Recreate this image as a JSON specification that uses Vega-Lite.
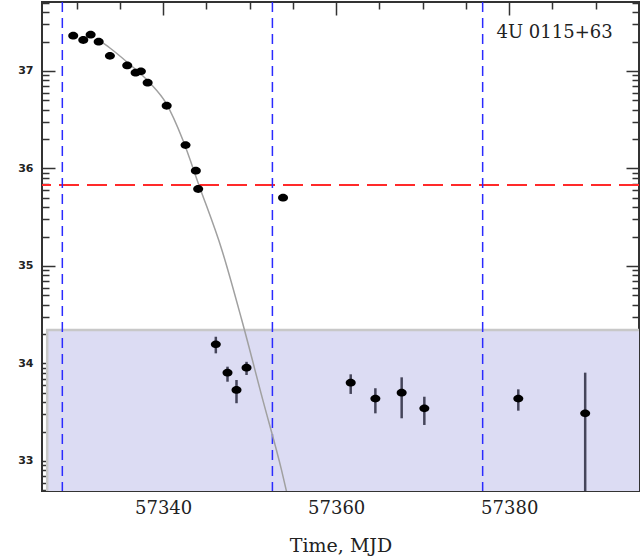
{
  "$schema": "https://vega.github.io/schema/vega-lite/v6.json",
  "width": 597,
  "height": 489,
  "autosize": {"type": "none"},
  "padding": {"left": 42, "top": 2, "right": 5, "bottom": 67},
  "background": "white",
  "config": {
    "view": {"stroke": "#333333", "strokeWidth": 2},
    "axis": {"domain": false, "grid": false, "tickColor": "#333333", "tickWidth": 1.5, "labelFont": "DejaVu Serif", "labelColor": "#222222", "titleFont": "DejaVu Serif", "titleFontWeight": "normal", "titleColor": "#222222", "labelOverlap": false, "labelFlush": false}
  },
  "layer": [
    {
      "data": {"values": [{"x0": 57326.6, "x1": 57400, "y0": 1e32, "y1": 2.21e34}]},
      "mark": {"type": "rect", "fill": "#dcdcf3", "stroke": "#c8c8c8", "strokeWidth": 2.5, "clip": true},
      "encoding": {
        "x": {"field": "x0", "type": "quantitative", "scale": {"domain": [57326, 57395], "nice": false, "zero": false},
          "axis": {"orient": "bottom", "values": [57330, 57335, 57340, 57345, 57350, 57355, 57360, 57365, 57370, 57375, 57380, 57385, 57390],
            "labelExpr": "datum.value % 20 == 0 ? '' + datum.value : ''",
            "tickSize": {"condition": {"test": "datum.value % 20 == 0", "value": -13}, "value": -6},
            "labelPadding": 21, "labelFontSize": 18, "title": "Time, MJD", "titleFontSize": 19, "titlePadding": 12}},
        "x2": {"field": "x1"},
        "y": {"field": "y0", "type": "quantitative", "scale": {"type": "log", "domain": [4.92e32, 5.1e37], "nice": false},
          "axis": {"orient": "left", "values": [5e32, 6e32, 7e32, 8e32, 9e32, 1e33, 2e33, 3e33, 4e33, 5e33, 6e33, 7e33, 8e33, 9e33, 1e34, 2e34, 3e34, 4e34, 5e34, 6e34, 7e34, 8e34, 9e34, 1e35, 2e35, 3e35, 4e35, 5e35, 6e35, 7e35, 8e35, 9e35, 1e36, 2e36, 3e36, 4e36, 5e36, 6e36, 7e36, 8e36, 9e36, 1e37, 2e37, 3e37, 4e37, 5e37],
            "labelExpr": "abs(log(datum.value)/LN10 - round(log(datum.value)/LN10)) < 0.001 ? '' + round(log(datum.value)/LN10) : ''",
            "tickSize": {"condition": {"test": "abs(log(datum.value)/LN10 - round(log(datum.value)/LN10)) < 0.001", "value": -13}, "value": -7},
            "labelPadding": 22, "labelFontSize": 11, "labelFont": "DejaVu Sans", "labelFontWeight": "bold", "title": null}},
        "y2": {"field": "y1"}
      }
    },
    {
      "data": {"values": [{"level": 6.78e35}]},
      "mark": {"type": "rule", "color": "#ff2a2a", "strokeWidth": 2, "strokeDash": [20, 8]},
      "encoding": {"y": {"field": "level", "type": "quantitative", "axis": null}}
    },
    {
      "data": {"values": [{"t": 57328.35}, {"t": 57352.63}, {"t": 57376.93}]},
      "mark": {"type": "rule", "color": "#2a2aff", "strokeWidth": 1.5, "strokeDash": [10, 6]},
      "encoding": {"x": {"field": "t", "type": "quantitative", "axis": null}}
    },
    {
      "data": {"values": [
        {"mjd": 57332.35, "L": 2.13e37},
        {"mjd": 57333.85, "L": 1.72e37},
        {"mjd": 57335.82, "L": 1.236e37},
        {"mjd": 57338.47, "L": 7.53e36},
        {"mjd": 57340.32, "L": 4.70e36},
        {"mjd": 57342.28, "L": 1.96e36},
        {"mjd": 57344.13, "L": 6.78e35},
        {"mjd": 57346.79, "L": 1.46e35},
        {"mjd": 57349.09, "L": 2.79e34},
        {"mjd": 57351.52, "L": 4.23e33},
        {"mjd": 57353.68, "L": 8.09e32},
        {"mjd": 57354.35, "L": 4.5e32}
      ]},
      "mark": {"type": "line", "color": "#a0a0a0", "strokeWidth": 1.5, "interpolate": "monotone", "clip": true},
      "encoding": {
        "x": {"field": "mjd", "type": "quantitative", "axis": null},
        "y": {"field": "L", "type": "quantitative", "axis": null}
      }
    },
    {
      "data": {"name": "pts"},
      "transform": [{"filter": "isValid(datum.lo)"}],
      "mark": {"type": "rule", "color": "#45455a", "strokeWidth": 2.5, "clip": true},
      "encoding": {
        "x": {"field": "mjd", "type": "quantitative", "axis": null},
        "y": {"field": "lo", "type": "quantitative", "axis": null},
        "y2": {"field": "hi"}
      }
    },
    {
      "data": {"name": "pts"},
      "mark": {"type": "point", "filled": true, "color": "#000000", "opacity": 1, "size": 100, "shape": "M -1 0 A 1 0.78 0 1 0 1 0 A 1 0.78 0 1 0 -1 0 Z"},
      "encoding": {
        "x": {"field": "mjd", "type": "quantitative",
          "axis": {"orient": "top", "labels": false, "title": null, "values": [57330, 57335, 57340, 57345, 57350, 57355, 57360, 57365, 57370, 57375, 57380, 57385, 57390],
            "tickSize": {"condition": {"test": "datum.value % 20 == 0", "value": -13}, "value": -7}}},
        "y": {"field": "L", "type": "quantitative",
          "axis": {"orient": "right", "labels": false, "title": null, "values": [5e32, 6e32, 7e32, 8e32, 9e32, 1e33, 2e33, 3e33, 4e33, 5e33, 6e33, 7e33, 8e33, 9e33, 1e34, 2e34, 3e34, 4e34, 5e34, 6e34, 7e34, 8e34, 9e34, 1e35, 2e35, 3e35, 4e35, 5e35, 6e35, 7e35, 8e35, 9e35, 1e36, 2e36, 3e36, 4e36, 5e36, 6e36, 7e36, 8e36, 9e36, 1e37, 2e37, 3e37, 4e37, 5e37],
            "tickSize": {"condition": {"test": "abs(log(datum.value)/LN10 - round(log(datum.value)/LN10)) < 0.001", "value": -13}, "value": -7}}}
      }
    },
    {
      "data": {"values": [{"label": "4U 0115+63", "x": 57385.24, "y": 2.46e37}]},
      "mark": {"type": "text", "font": "DejaVu Serif", "fontSize": 18, "color": "#222222", "align": "center", "baseline": "middle"},
      "encoding": {
        "x": {"field": "x", "type": "quantitative", "axis": null},
        "y": {"field": "y", "type": "quantitative", "axis": null},
        "text": {"field": "label"}
      }
    }
  ],
  "datasets": {
    "pts": [
      {"mjd": 57329.61, "L": 2.30e37},
      {"mjd": 57330.77, "L": 2.08e37},
      {"mjd": 57331.62, "L": 2.36e37},
      {"mjd": 57332.55, "L": 2.00e37},
      {"mjd": 57333.85, "L": 1.43e37},
      {"mjd": 57335.85, "L": 1.14e37},
      {"mjd": 57336.82, "L": 9.61e36},
      {"mjd": 57337.43, "L": 9.93e36},
      {"mjd": 57338.21, "L": 7.59e36},
      {"mjd": 57340.41, "L": 4.40e36},
      {"mjd": 57342.59, "L": 1.74e36},
      {"mjd": 57343.78, "L": 9.49e35},
      {"mjd": 57344.05, "L": 6.16e35},
      {"mjd": 57353.86, "L": 5.02e35},
      {"mjd": 57346.09, "L": 1.57e34, "lo": 1.27e34, "hi": 1.88e34},
      {"mjd": 57347.44, "L": 8.05e33, "lo": 6.50e33, "hi": 9.27e33},
      {"mjd": 57348.48, "L": 5.35e33, "lo": 3.91e33, "hi": 6.77e33},
      {"mjd": 57349.64, "L": 9.06e33, "lo": 7.62e33, "hi": 1.04e34},
      {"mjd": 57361.68, "L": 6.36e33, "lo": 4.87e33, "hi": 7.74e33},
      {"mjd": 57364.53, "L": 4.36e33, "lo": 3.08e33, "hi": 5.57e33},
      {"mjd": 57367.57, "L": 5.02e33, "lo": 2.74e33, "hi": 7.21e33},
      {"mjd": 57370.19, "L": 3.47e33, "lo": 2.34e33, "hi": 4.56e33},
      {"mjd": 57381.05, "L": 4.36e33, "lo": 3.28e33, "hi": 5.43e33},
      {"mjd": 57388.78, "L": 3.08e33, "lo": 1e32, "hi": 8.05e33}
    ]
  },
  "resolve": {"axis": {"x": "independent", "y": "independent"}}
}
